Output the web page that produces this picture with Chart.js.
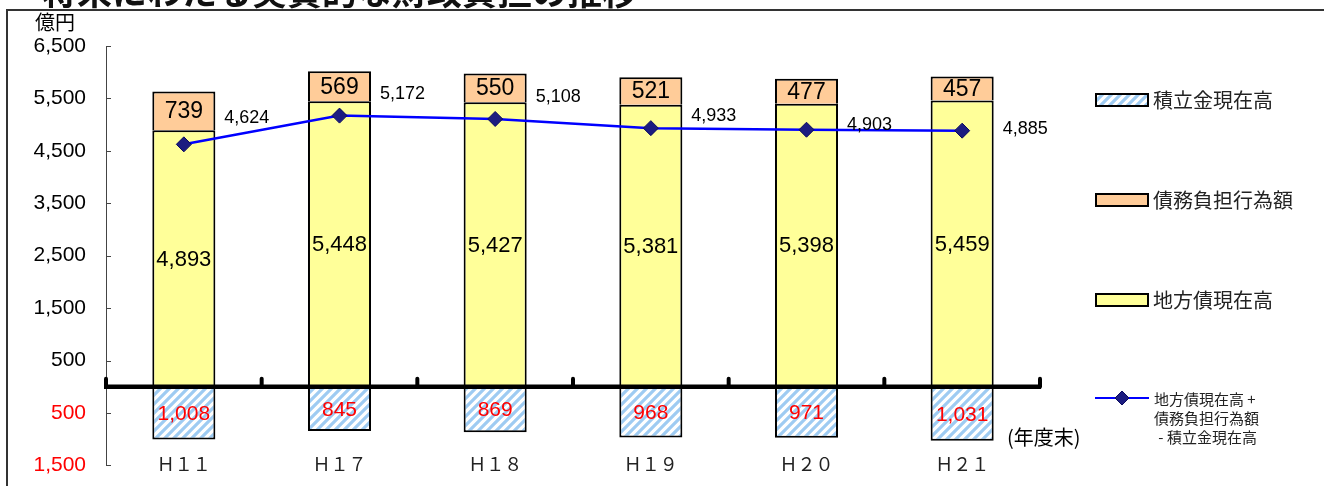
<!DOCTYPE html>
<html>
<head>
<meta charset="utf-8">
<script src="https://cdn.jsdelivr.net/npm/chart.js@4"></script>
<style>
html, body { margin: 0; padding: 0; background: #fff; overflow: hidden; }
#caja { width: 1324px; height: 486px; overflow: hidden; }
canvas { display: block; }
</style>
</head>
<body>
<div id="caja"><canvas id="myChart" width="1324" height="498"></canvas></div>
<script>
// datos (億円)
var titulo = '将来にわたる実質的な財政負担の推移';
var categorias = ['Ｈ１１', 'Ｈ１７', 'Ｈ１８', 'Ｈ１９', 'Ｈ２０', 'Ｈ２１'];
var chihousai = [4893, 5448, 5427, 5381, 5398, 5459];   // 地方債現在高
var saimuFutan = [739, 569, 550, 521, 477, 457];         // 債務負担行為額
var tsumitate = [1008, 845, 869, 968, 971, 1031];        // 積立金現在高
var jisshitsu = [4624, 5172, 5108, 4933, 4903, 4885];    // 実質的な負担
var nombres = ['積立金現在高', '債務負担行為額', '地方債現在高'];
var nombreLinea = ['地方債現在高 +', '債務負担行為額', ' - 積立金現在高'];

var JP = '"Noto Sans CJK JP", sans-serif';
var LS = '"Liberation Sans", Arial, sans-serif';
var AMARILLO = '#ffff99';
var NARANJA = '#ffcc99';

function rayado() {
    var c = document.createElement('canvas');
    c.width = 9; c.height = 9;
    var g = c.getContext('2d');
    g.fillStyle = '#fff';
    g.fillRect(0, 0, 9, 9);
    g.strokeStyle = '#9ecbf2';
    g.lineWidth = 3.2;
    g.beginPath();
    g.moveTo(-3, 12); g.lineTo(12, -3);
    g.moveTo(-12, 12); g.lineTo(12, -12);
    g.moveTo(-3, 21); g.lineTo(21, -3);
    g.stroke();
    return g.createPattern(c, 'repeat');
}
var AZUL = rayado();

function fmt(v) { return Math.abs(v).toLocaleString('en-US'); }

// desplazamiento de las etiquetas de la linea
var dyLinea = [-26, -22, -22, -12, -5, -2];
var tamEtiqueta = [22, 23, 21];

var extras = {
    id: 'extras',
    beforeDraw: function(chart) {
        var ctx = chart.ctx;
        ctx.save();
        ctx.fillStyle = '#111';
        ctx.font = 'bold 35px ' + JP;
        ctx.textBaseline = 'alphabetic';
        ctx.fillText(titulo, 42, 5);
        // marco
        ctx.strokeStyle = '#333';
        ctx.lineWidth = 2;
        ctx.beginPath();
        ctx.moveTo(7, 500); ctx.lineTo(7, 10); ctx.lineTo(1330, 10);
        ctx.stroke();
        // unidad
        ctx.fillStyle = '#000';
        ctx.font = '20px ' + JP;
        ctx.textBaseline = 'middle';
        ctx.fillText('億円', 35, 22);
        ctx.restore();
    },
    afterDatasetsDraw: function(chart) {
        var ctx = chart.ctx;
        var x = chart.scales.x, y = chart.scales.y;
        var area = chart.chartArea;
        ctx.save();
        // ticks hacia adentro del eje y
        ctx.strokeStyle = '#444';
        ctx.lineWidth = 1;
        y.ticks.forEach(function(t) {
            var py = Math.round(y.getPixelForValue(t.value)) + 0.5;
            ctx.beginPath(); ctx.moveTo(area.left, py); ctx.lineTo(area.left + 5, py); ctx.stroke();
        });
        // linea del cero
        var y0 = y.getPixelForValue(0);
        ctx.strokeStyle = '#000';
        ctx.lineWidth = 4.5;
        ctx.beginPath(); ctx.moveTo(area.left - 2, y0); ctx.lineTo(area.right + 1, y0); ctx.stroke();
        ctx.lineWidth = 4;
        ctx.lineCap = 'round';
        for (var i = 0; i <= categorias.length; i++) {
            var px = x.getPixelForValue(i - 0.5);
            ctx.beginPath(); ctx.moveTo(px, y0 - 8); ctx.lineTo(px, y0); ctx.stroke();
        }
        // etiquetas de barras
        ctx.textAlign = 'center';
        ctx.textBaseline = 'middle';
        [0, 1, 2].forEach(function(d) {
            var meta = chart.getDatasetMeta(d);
            var vals = chart.data.datasets[d].data;
            ctx.font = tamEtiqueta[d] + 'px ' + LS;
            ctx.fillStyle = d === 2 ? '#ff0000' : '#000';
            meta.data.forEach(function(bar, j) {
                ctx.fillText(fmt(vals[j]), bar.x, (bar.y + bar.base) / 2 + 1);
            });
        });
        // etiquetas de la linea
        ctx.fillStyle = '#000';
        ctx.font = '18px ' + LS;
        chart.getDatasetMeta(3).data.forEach(function(pt, j) {
            ctx.fillText(fmt(jisshitsu[j]), pt.x + 63, pt.y + dyLinea[j]);
        });
        // categorias
        ctx.fillStyle = '#222';
        ctx.font = '18px ' + JP;
        categorias.forEach(function(c, j) {
            ctx.fillText(c, x.getPixelForValue(j), 464);
        });
        ctx.font = '20px ' + JP;
        ctx.textAlign = 'left';
        ctx.fillStyle = '#000';
        ctx.fillText('(年度末)', 1007, 437);
        ctx.restore();
    },
    afterDraw: function(chart) {
        // leyenda a la derecha
        var ctx = chart.ctx;
        ctx.save();
        var fills = [AZUL, NARANJA, AMARILLO];
        var ys = [100, 200, 300];
        ctx.font = '20px ' + JP;
        ctx.textBaseline = 'middle';
        for (var i = 0; i < 3; i++) {
            ctx.fillStyle = fills[i];
            ctx.fillRect(1096, ys[i] - 6, 52, 12);
            ctx.strokeStyle = '#000';
            ctx.lineWidth = 2;
            ctx.strokeRect(1096, ys[i] - 6, 52, 12);
            ctx.fillStyle = '#222';
            ctx.fillText(nombres[i], 1153, ys[i]);
        }
        ctx.strokeStyle = '#0000ff';
        ctx.lineWidth = 2;
        ctx.beginPath(); ctx.moveTo(1095, 398); ctx.lineTo(1149, 398); ctx.stroke();
        ctx.fillStyle = '#1c1c80';
        ctx.strokeStyle = '#0a0a60';
        ctx.lineWidth = 1;
        ctx.beginPath();
        ctx.moveTo(1122, 391); ctx.lineTo(1129, 398); ctx.lineTo(1122, 405); ctx.lineTo(1115, 398);
        ctx.closePath(); ctx.fill(); ctx.stroke();
        ctx.fillStyle = '#222';
        ctx.font = '15px ' + JP;
        ctx.fillText(nombreLinea[0], 1154, 399);
        ctx.fillText(nombreLinea[1], 1154, 418);
        ctx.fillText(nombreLinea[2], 1155, 437);
        ctx.restore();
    }
};

var ctx = document.getElementById('myChart').getContext('2d');
var chart = new Chart(ctx, {
    type: 'bar',
    data: {
        labels: categorias,
        datasets: [{
            label: nombres[2],
            data: chihousai,
            backgroundColor: AMARILLO,
            borderColor: '#000',
            borderWidth: 2,
            stack: 'barras',
            order: 1
        }, {
            label: nombres[1],
            data: saimuFutan,
            backgroundColor: NARANJA,
            borderColor: '#000',
            borderWidth: 2,
            stack: 'barras',
            order: 1
        }, {
            label: nombres[0],
            data: tsumitate.map(function(v) { return -v; }),
            backgroundColor: AZUL,
            borderColor: '#000',
            borderWidth: 2,
            stack: 'barras',
            order: 1
        }, {
            type: 'line',
            label: 'jisshitsu',
            data: jisshitsu,
            borderColor: '#0000ff',
            borderWidth: 2.5,
            pointStyle: 'rectRot',
            pointRadius: 7.5,
            pointBackgroundColor: '#1c1c80',
            pointBorderColor: '#0a0a60',
            pointBorderWidth: 1,
            stack: 'linea',
            order: 0
        }]
    },
    options: {
        responsive: false,
        animation: false,
        devicePixelRatio: 1,
        layout: { padding: { left: 0, right: 284, top: 46, bottom: 9 } },
        datasets: { bar: { categoryPercentage: 1, barPercentage: 0.405 } },
        plugins: { legend: { display: false }, tooltip: { enabled: false } },
        scales: {
            x: { display: false, stacked: true },
            y: {
                stacked: true,
                min: -1500,
                max: 6500,
                afterFit: function(scale) { scale.width = 106; },
                border: { display: true, color: '#444', width: 1 },
                grid: { drawOnChartArea: false, drawTicks: false },
                ticks: {
                    stepSize: 1000,
                    padding: 20,
                    font: { family: LS, size: 21 },
                    color: function(c) { return c.tick && c.tick.value < 0 ? '#ff0000' : '#000'; },
                    callback: function(v) { return fmt(v); }
                }
            }
        }
    },
    plugins: [extras]
});
</script>
</body>
</html>
